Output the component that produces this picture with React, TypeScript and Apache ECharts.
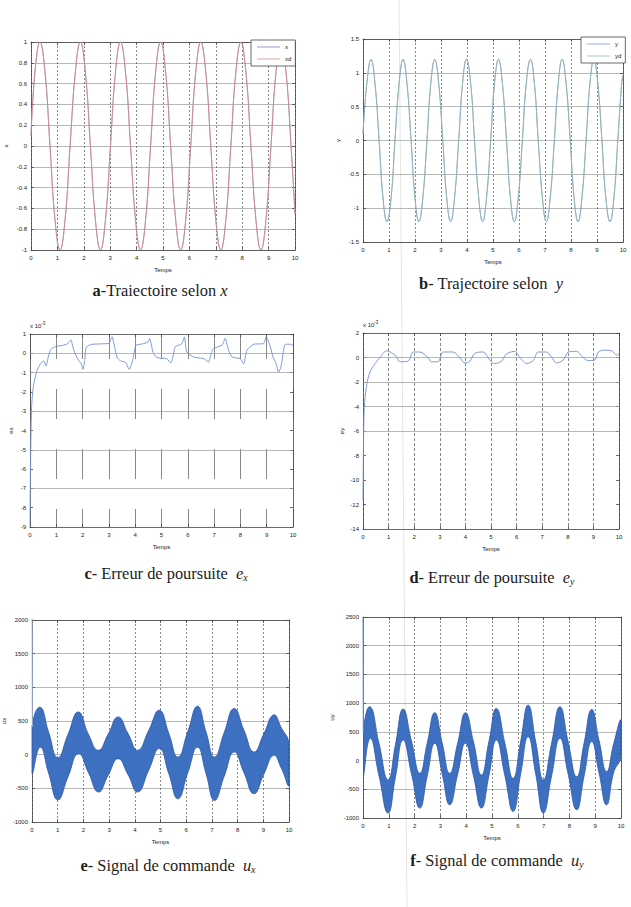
import React, { useEffect, useRef } from 'react';
import * as echarts from 'echarts';

// ---------- a: trajectory x ----------
const tA = [0, 0.15, 0.34, 0.53, 0.72, 0.91, 1.10, 1.29, 1.48, 1.68, 1.87, 2.06, 2.25, 2.44, 2.63, 2.82, 3.01, 3.20, 3.39, 3.58, 3.77, 3.96, 4.15, 4.34, 4.53, 4.72, 4.91, 5.10, 5.29, 5.48, 5.67, 5.86, 6.05, 6.24, 6.43, 6.62, 6.81, 7.00, 7.19, 7.38, 7.57, 7.76, 7.95, 8.14, 8.33, 8.52, 8.71, 8.90, 9.09, 9.28, 9.47, 9.66, 9.85, 10];
const xVals = [0.1, 0.71, 1, 0.71, 0, -0.71, -1, -0.71, 0, 0.71, 1, 0.71, 0, -0.71, -1, -0.71, 0, 0.71, 1, 0.71, 0, -0.71, -1, -0.71, 0, 0.71, 1, 0.71, 0, -0.71, -1, -0.71, 0, 0.71, 1, 0.71, 0, -0.71, -1, -0.71, 0, 0.71, 1, 0.71, 0, -0.71, -1, -0.71, 0, 0.71, 1, 0.71, 0, -0.65];
const xdVals = xVals;

// ---------- b: trajectory y ----------
const tB = [0, 0.15, 0.31, 0.46, 0.62, 0.77, 0.92, 1.08, 1.23, 1.39, 1.54, 1.69, 1.85, 2.0, 2.15, 2.30, 2.46, 2.61, 2.76, 2.91, 3.07, 3.22, 3.37, 3.52, 3.68, 3.83, 3.98, 4.14, 4.29, 4.45, 4.6, 4.75, 4.91, 5.06, 5.21, 5.36, 5.52, 5.67, 5.82, 5.97, 6.13, 6.28, 6.44, 6.59, 6.74, 6.9, 7.05, 7.2, 7.36, 7.51, 7.66, 7.81, 7.97, 8.12, 8.27, 8.42, 8.58, 8.73, 8.88, 9.03, 9.19, 9.34, 9.5, 9.65, 9.8, 9.95, 10];
const yVals = [0.1, 0.85, 1.2, 0.85, 0, -0.85, -1.2, -0.85, 0, 0.85, 1.2, 0.85, 0, -0.85, -1.2, -0.85, 0, 0.85, 1.2, 0.85, 0, -0.85, -1.2, -0.85, 0, 0.85, 1.2, 0.85, 0, -0.85, -1.2, -0.85, 0, 0.85, 1.2, 0.85, 0, -0.85, -1.2, -0.85, 0, 0.85, 1.2, 0.85, 0, -0.85, -1.2, -0.85, 0, 0.85, 1.2, 0.85, 0, -0.85, -1.2, -0.85, 0, 0.85, 1.2, 0.85, 0, -0.85, -1.2, -0.85, 0, 0.85, 0.97];
const ydVals = yVals;

// ---------- c: tracking error ex (x 1e-3) ----------
const tC = [0, 0.01, 0.03, 0.06, 0.13, 0.26, 0.39, 0.52, 0.61, 0.69, 0.78, 0.97, 1.23, 1.43, 1.56, 1.6, 1.69, 1.82, 1.95, 2.01, 2.08, 2.14, 2.34, 2.73, 3.01, 3.12, 3.18, 3.31, 3.44, 3.64, 3.77, 3.9, 4.03, 4.29, 4.48, 4.55, 4.68, 4.82, 5.2, 5.35, 5.45, 5.52, 5.77, 5.87, 5.96, 6.22, 6.6, 6.79, 6.89, 6.98, 7.3, 7.42, 7.55, 7.68, 7.99, 8.12, 8.25, 8.5, 8.88, 8.98, 9.14, 9.24, 9.36, 9.45, 9.54, 9.64, 9.71, 9.9, 10];
const exVals = [-9, -7, -4.8, -2.8, -1.7, -0.92, -0.56, -0.39, -0.65, -0.21, 0.18, 0.35, 0.41, 0.49, 0.7, 0.49, 0.05, -0.3, -0.56, -0.83, -0.39, 0.32, 0.46, 0.49, 0.53, 0.86, 0.58, -0.21, -0.39, -0.48, -0.83, -0.39, 0.41, 0.49, 0.58, 0.76, 0.05, -0.22, -0.28, -0.5, -0.1, 0.33, 0.5, 0.85, 0.07, -0.19, -0.28, -0.45, 0, 0.25, 0.42, 0.77, 0.16, -0.19, -0.28, -0.54, 0.16, 0.47, 0.5, 0.85, 0.33, -0.19, -0.54, -0.98, -0.72, 0.16, 0.47, 0.47, 0.4];
const exGridLines = [0, -1, -3, -5, -7];

// ---------- d: tracking error ey (x 1e-3) ----------
const tD = [0, 0.02, 0.05, 0.14, 0.27, 0.47, 0.66, 0.92, 1.3, 1.43, 1.76, 1.96, 2.22, 2.54, 2.67, 2.93, 3.13, 3.52, 3.78, 3.98, 4.17, 4.37, 4.69, 4.95, 5.15, 5.41, 5.61, 5.93, 6.13, 6.39, 6.65, 6.84, 7.17, 7.37, 7.56, 7.82, 8.02, 8.34, 8.6, 8.8, 9.06, 9.19, 9.45, 9.71, 9.91, 10];
const eyVals = [-11.7, -7, -4.1, -2.3, -1.2, -0.5, 0, 0.55, 0.1, -0.35, -0.3, 0.45, 0.45, 0, -0.35, -0.35, 0.45, 0.45, 0, -0.45, -0.3, 0.35, 0.45, -0.2, -0.5, -0.3, 0.3, 0.5, 0, -0.5, -0.25, 0.45, 0.45, 0, -0.45, -0.2, 0.45, 0.5, 0, -0.25, -0.2, 0.45, 0.6, 0.55, 0.2, 0.3];
const eyGridLines = [0, -2, -4, -6];

// ---------- e: control signal ux (envelope of the dense oscillation) ----------
const tE = [0, 0.32, 0.65, 1.0, 1.4, 1.8, 2.2, 2.58, 2.97, 3.35, 3.74, 4.12, 4.54, 4.96, 5.32, 5.68, 6.06, 6.44, 6.77, 7.1, 7.48, 7.86, 8.25, 8.63, 9.02, 9.4, 9.7, 10];
const uxHigh = [410, 705, 330, -45, 300, 635, 300, 65, 310, 560, 310, 65, 360, 660, 320, -35, 340, 720, 340, -35, 330, 685, 360, 40, 310, 590, 400, 165];
const uxLow = [-280, 110, -280, -670, -330, 15, -270, -555, -300, -60, -300, -555, -230, 90, -280, -655, -270, 110, -280, -680, -320, 40, -270, -580, -290, -10, -200, -455];
const uxSpikeT = [0, 0.01];
const uxSpikeV = [2000, 410];

// ---------- f: control signal uy ----------
const tF = [0, 0.28, 0.62, 0.97, 1.26, 1.55, 1.88, 2.2, 2.49, 2.78, 3.07, 3.36, 3.67, 3.97, 4.28, 4.59, 4.88, 5.17, 5.5, 5.82, 6.11, 6.4, 6.7, 6.99, 7.31, 7.63, 7.95, 8.28, 8.57, 8.86, 9.15, 9.44, 9.72, 10];
const uyHigh = [475, 937, 300, -335, 280, 896, 340, -220, 305, 833, 305, -220, 305, 833, 330, -250, 330, 908, 300, -307, 330, 966, 315, -335, 300, 937, 330, -280, 305, 890, 350, -190, 300, 705];
const uyLow = [-280, 387, -265, -914, -280, 358, -235, -827, -265, 300, -235, -770, -235, 300, -265, -827, -265, 358, -265, -885, -235, 416, -250, -914, -265, 387, -235, -856, -265, 330, -220, -770, -200, 70];
const uySpikeT = [0, 0.01];
const uySpikeV = [2500, 475];

const zip = (t: number[], v: number[]) => t.map((x, i) => [x, v[i]]);

const panels = [
  { left: 31, top: 42, width: 264, height: 208, yMin: -1, yMax: 1, yInt: 0.2, yName: 'x', yNameGap: 22, hLines: null as number[] | null, vDash: [2, 2], vOff: 0 },
  { left: 363, top: 39, width: 260, height: 203, yMin: -1.5, yMax: 1.5, yInt: 0.5, yName: 'y', yNameGap: 22, hLines: null, vDash: [2, 2], vOff: 0 },
  { left: 30, top: 334, width: 263, height: 193, yMin: -9, yMax: 1, yInt: 1, yName: 'ex', yNameGap: 16, hLines: exGridLines, vDash: [30, 30], vOff: 5 },
  { left: 363, top: 333, width: 256, height: 196, yMin: -14, yMax: 2, yInt: 2, yName: 'ey', yNameGap: 18, hLines: eyGridLines, vDash: [3, 2], vOff: 0 },
  { left: 30, top: 620, width: 259, height: 202, yMin: -1000, yMax: 2000, yInt: 500, yName: 'ux', yNameGap: 25, hLines: null, vDash: [2, 2], vOff: 0 },
  { left: 363, top: 617, width: 258, height: 201, yMin: -1000, yMax: 2500, yInt: 500, yName: 'uy', yNameGap: 28, hLines: null, vDash: [2, 2], vOff: 0 },
];

const AX = '#454545';
const LBL = { fontSize: 6, color: '#222', fontFamily: 'Liberation Sans' };
const SERIF = 'Liberation Serif';
const fmt = (v: number) => String(Math.round(v * 1000) / 1000);
const BAND_EDGE = '#2b56a3';
const BAND_FILL = '#3e70c1';

// band between two envelopes, placed through the axes' own scales (api.coord)
function bandSeries(name: string, axisIdx: number, t: number[], hi: number[], lo: number[]) {
  return {
    type: 'custom', name, xAxisIndex: axisIdx, yAxisIndex: axisIdx, coordinateSystem: 'cartesian2d',
    data: [[t[0], hi[0]]], clip: true, silent: true, animation: false, z: 2,
    renderItem: (_params: any, api: any) => {
      const top = t.map((x, i) => api.coord([x, hi[i]]));
      const bottom = t.map((x, i) => api.coord([x, lo[i]])).reverse();
      const pts = top.concat(bottom);
      let x0 = Infinity, y0 = Infinity, x1 = -Infinity, y1 = -Infinity;
      pts.forEach((p: number[]) => {
        x0 = Math.min(x0, p[0]); y0 = Math.min(y0, p[1]);
        x1 = Math.max(x1, p[0]); y1 = Math.max(y1, p[1]);
      });
      return {
        type: 'polygon',
        shape: { points: pts, smooth: 0.5, smoothConstraint: [[x0, y0], [x1, y1]] },
        style: { fill: BAND_FILL, stroke: BAND_EDGE, lineWidth: 0.8 },
      };
    },
  };
}

function buildOption() {
  const grid: any[] = [];
  const xAxis: any[] = [];
  const yAxis: any[] = [];
  panels.forEach((p, i) => {
    grid.push({ left: p.left, top: p.top, width: p.width, height: p.height, show: false });
    const line = { show: true, onZero: false, lineStyle: { color: AX, width: 0.8 } };
    const tick = { show: true, inside: true, length: 3, lineStyle: { color: AX, width: 0.8 } };
    xAxis.push({
      type: 'value', gridIndex: i, min: 0, max: 10, interval: 1, position: 'bottom',
      axisLine: line, axisTick: tick,
      axisLabel: { ...LBL, margin: 5, formatter: fmt },
      splitLine: { show: true, lineStyle: { color: '#555', width: 0.7, type: p.vDash, dashOffset: p.vOff } },
      name: 'Temps', nameLocation: 'middle', nameGap: 17, nameTextStyle: { ...LBL },
    });
    xAxis.push({
      type: 'value', gridIndex: i, min: 0, max: 10, interval: 1, position: 'top',
      axisLine: line, axisTick: tick, axisLabel: { show: false }, splitLine: { show: false },
    });
    yAxis.push({
      type: 'value', gridIndex: i, min: p.yMin, max: p.yMax, interval: p.yInt, position: 'left',
      axisLine: line, axisTick: tick,
      axisLabel: { ...LBL, margin: 4, formatter: fmt },
      splitLine: { show: !p.hLines, lineStyle: { color: '#9a9a9a', width: 0.7, type: 'solid' } },
      name: p.yName, nameLocation: 'middle', nameGap: p.yNameGap, nameRotate: 90, nameTextStyle: { ...LBL },
    });
    yAxis.push({
      type: 'value', gridIndex: i, min: p.yMin, max: p.yMax, interval: p.yInt, position: 'right',
      axisLine: line, axisTick: tick, axisLabel: { show: false }, splitLine: { show: false },
    });
  });

  const gl = (vals: number[]) => ({
    silent: true, symbol: 'none', label: { show: false },
    lineStyle: { color: '#9a9a9a', width: 0.7, type: 'solid' },
    data: vals.map((v) => ({ yAxis: v })),
  });

  const base = { type: 'line', symbol: 'none', animation: false };
  const series: any[] = [
    { ...base, name: 'x', xAxisIndex: 0, yAxisIndex: 0, data: zip(tA, xVals), smooth: 0.45, lineStyle: { color: '#8e9ccc', width: 0.9 }, itemStyle: { color: '#8e9ccc' } },
    { ...base, name: 'xd', xAxisIndex: 0, yAxisIndex: 0, data: zip(tA, xdVals), smooth: 0.45, lineStyle: { color: '#dd7f86', width: 0.8 }, itemStyle: { color: '#e2a0a4' } },
    { ...base, name: 'y', xAxisIndex: 2, yAxisIndex: 2, data: zip(tB, yVals), smooth: 0.45, lineStyle: { color: '#8fa6c8', width: 0.9 }, itemStyle: { color: '#9fb0cc' } },
    { ...base, name: 'yd', xAxisIndex: 2, yAxisIndex: 2, data: zip(tB, ydVals), smooth: 0.45, lineStyle: { color: '#8fb4b4', width: 0.8 }, itemStyle: { color: '#b0c4c0' } },
    { ...base, name: 'ex', xAxisIndex: 4, yAxisIndex: 4, data: zip(tC, exVals), smooth: 0.2, lineStyle: { color: '#6f8fd6', width: 0.9 }, markLine: gl(exGridLines), z: 3 },
    { ...base, name: 'ey', xAxisIndex: 6, yAxisIndex: 6, data: zip(tD, eyVals), smooth: 0.3, lineStyle: { color: '#6f8fd6', width: 0.9 }, markLine: gl(eyGridLines), z: 3 },
    bandSeries('ux', 8, tE, uxHigh, uxLow),
    { ...base, name: 'ux-spike', xAxisIndex: 8, yAxisIndex: 8, data: zip(uxSpikeT, uxSpikeV), lineStyle: { color: '#a9c0ea', width: 1 } },
    bandSeries('uy', 10, tF, uyHigh, uyLow),
    { ...base, name: 'uy-spike', xAxisIndex: 10, yAxisIndex: 10, data: zip(uySpikeT, uySpikeV), lineStyle: { color: '#6f95dc', width: 1 } },
  ];

  const legendBase = {
    orient: 'vertical', icon: 'rect', itemWidth: 23, itemHeight: 1, itemGap: 6,
    borderColor: '#444', borderWidth: 0.8, backgroundColor: '#fff', borderRadius: 0,
    padding: [4, 4, 4, 6], textStyle: { ...LBL }, z: 10, selectedMode: false,
  };
  const legend = [
    { ...legendBase, data: ['x', 'xd'], left: 251, top: 40 },
    { ...legendBase, data: ['y', 'yd'], left: 581, top: 37 },
  ];

  const CS = 16.4;
  const capRich = {
    b: { fontWeight: 'bold', fontSize: CS, fontFamily: SERIF, fill: '#1c1c1c' },
    i: { fontStyle: 'italic', fontSize: CS, fontFamily: SERIF, fill: '#1c1c1c' },
    s: { fontStyle: 'italic', fontSize: 10, fontFamily: SERIF, fill: '#1c1c1c', padding: [9, 0, 0, 0] },
  };
  const cap = (x: number, y: number, text: string) => ({
    type: 'text', x, y, z: 10,
    style: {
      text, rich: capRich, fontSize: CS, fontFamily: SERIF, fill: '#1c1c1c',
      align: 'center', textAlign: 'center', verticalAlign: 'middle', textVerticalAlign: 'middle',
    },
  });
  const supRich = {
    p: { fontSize: 4.5, fontFamily: 'Liberation Sans', fill: '#222', padding: [0, 0, 5, 0] },
  };
  const expo = (x: number, y: number) => ({
    type: 'text', x, y, z: 10,
    style: { text: 'x 10{p|-3}', rich: supRich, fontSize: 6, fontFamily: 'Liberation Sans', fill: '#222', align: 'left', textAlign: 'left', verticalAlign: 'middle', textVerticalAlign: 'middle' },
  });

  const graphic = [
    { type: 'line', shape: { x1: 399, y1: 0, x2: 407, y2: 907 }, style: { stroke: '#e4e4e4', lineWidth: 1 }, z: -1, silent: true },
    cap(160, 290, '{b|a}-Traiectoire selon {i|x}'),
    cap(491, 283, '{b|b}- Trajectoire selon  {i|y}'),
    cap(166, 573, '{b|c}- Erreur de poursuite  {i|e}{s|x}'),
    cap(492, 577, '{b|d}- Erreur de poursuite  {i|e}{s|y}'),
    cap(168, 865, '{b|e}- Signal de commande  {i|u}{s|x}'),
    cap(497, 860, '{b|f}- Signal de commande  {i|u}{s|y}'),
    expo(30, 326),
    expo(363, 325),
  ];

  return { animation: false, backgroundColor: '#fff', grid, xAxis, yAxis, series, legend, graphic };
}

export default function App() {
  const ref = useRef<HTMLDivElement>(null);
  useEffect(() => {
    if (!ref.current) return;
    const chart = echarts.init(ref.current, undefined, { renderer: 'svg' });
    chart.setOption(buildOption() as any);
    return () => chart.dispose();
  }, []);
  return <div ref={ref} style={{ position: 'fixed', left: 0, top: 0, width: 631, height: 907, background: '#fff' }} />;
}
